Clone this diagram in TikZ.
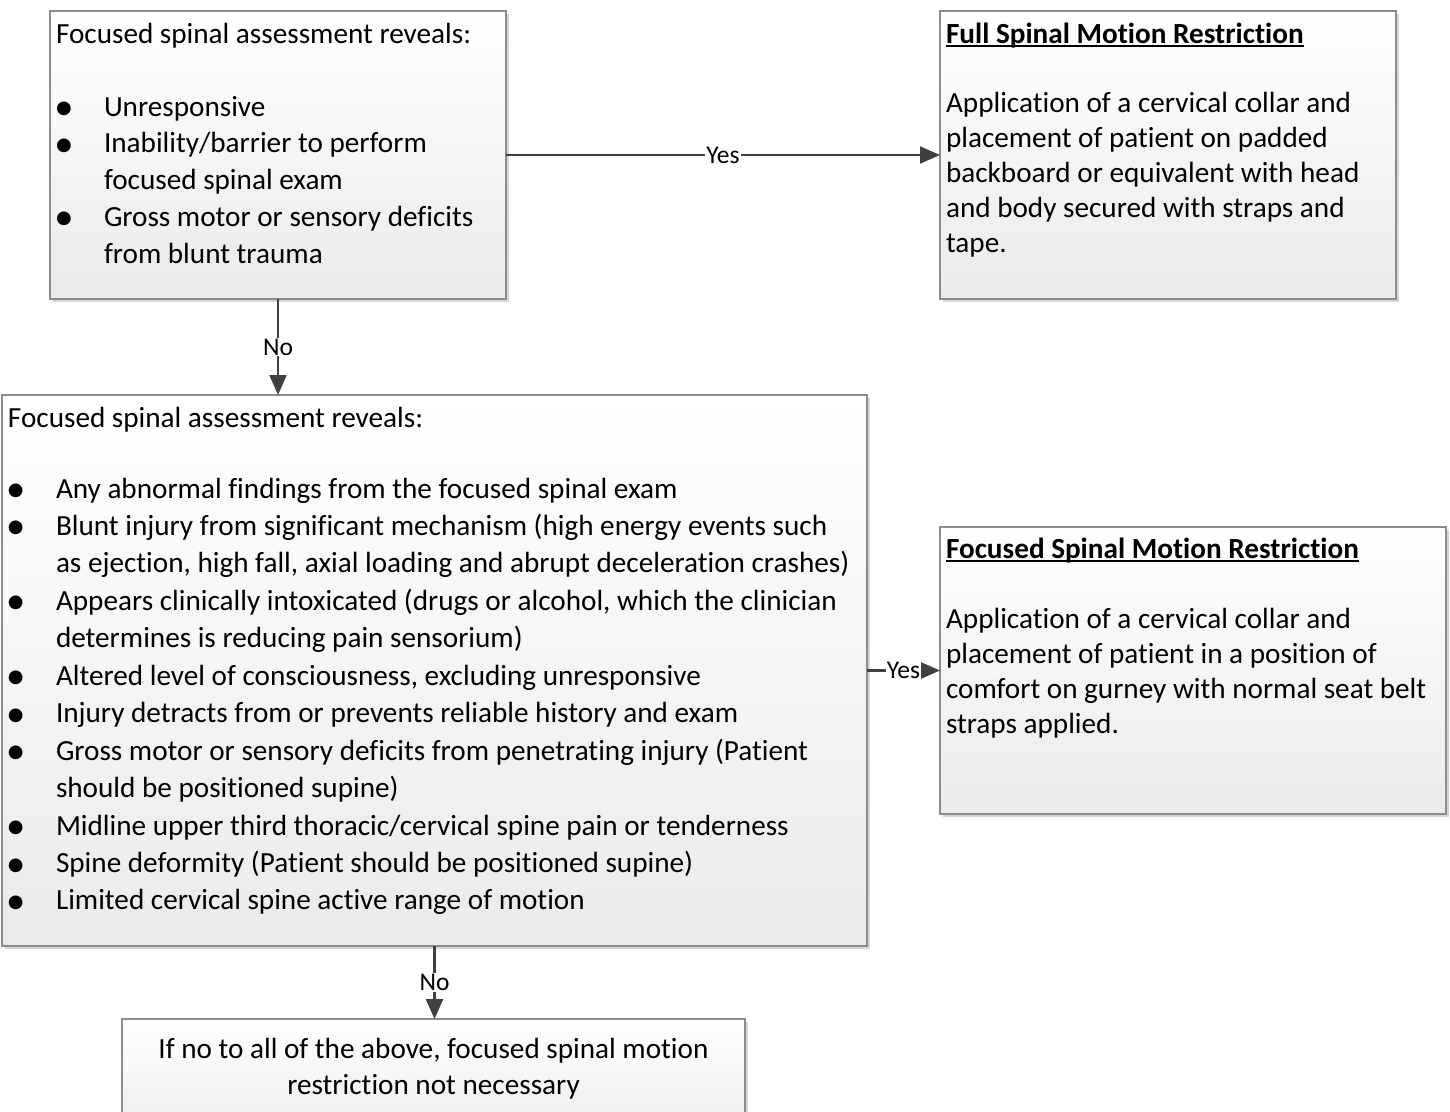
\documentclass[tikz,border=0pt]{standalone}
\usepackage{fontspec}
\setmainfont{Carlito}[Ligatures=NoCommon]
\newfontfamily\dejavu{DejaVu Sans}
\usetikzlibrary{arrows.meta,shadows}
\definecolor{boxline}{HTML}{8C8C8C}
\definecolor{arrowc}{HTML}{404040}
\definecolor{shadowc}{HTML}{D6D6D6}
\newcommand\bul{\makebox[48pt][l]{\raisebox{2.5pt}{\dejavu\fontsize{18}{18}\selectfont ●}}}
\newcommand\ind{\hspace*{48pt}}
\newcommand\ttl[1]{\leavevmode\setbox0\hbox{\textbf{#1}}\rlap{\rule[-3.5pt]{\wd0}{1.6pt}}\box0}
\tikzset{
  flowbox/.style={rectangle, draw=boxline, line width=1.5pt, top color=white, bottom color=black!8,
    inner sep=0pt, outer sep=0pt,
    drop shadow={shadow xshift=3pt, shadow yshift=-3pt, fill=shadowc, opacity=1}},
  boxtext/.style={inner sep=0pt, outer sep=0pt, anchor=base west, text=black},
  arr/.style={draw=arrowc, line width=2.2pt, -{Triangle[length=20pt,width=17pt]}},
  lbl/.style={fill=white, inner sep=1pt, text=black, font=\fontsize{25.5}{25.5}\selectfont}
}
\begin{document}
\begin{tikzpicture}[x=1pt, y=-1pt]
\useasboundingbox (0,0) rectangle (1450,1111);
\clip (0,0) rectangle (1450,1111);
\fill[white] (0,0) rectangle (1450,1111);

% boxes
\node[flowbox, minimum width=456pt, minimum height=288pt] (b1) at (278,155) {};
\node[flowbox, minimum width=456pt, minimum height=288pt] (b2) at (1168,155) {};
\node[flowbox, minimum width=865pt, minimum height=551pt] (b3) at (434.5,670.5) {};
\node[flowbox, minimum width=506pt, minimum height=287pt] (b4) at (1193,670.5) {};
\node[flowbox, minimum width=623pt, minimum height=124pt] (b5) at (433.5,1081) {};

% texts
\node[boxtext, font=\fontsize{29.2}{36.75}\selectfont] (t1) at (56,43)
 {\parbox[t]{445pt}{\raggedright
  Focused spinal assessment reveals:\\[36.25pt]
  \bul Unresponsive\\
  \bul Inability/barrier to perform\\
  \ind focused spinal exam\\
  \bul Gross motor or sensory deficits\\
  \ind from blunt trauma}};

\node[boxtext, font=\fontsize{29.2}{35.2}\selectfont] (t2) at (946,43)
 {\parbox[t]{445pt}{\raggedright
  \ttl{Full Spinal Motion Restriction}\\[33.8pt]
  Application of a cervical collar and\\
  placement of patient on padded\\
  backboard or equivalent with head\\
  and body secured with straps and\\
  tape.}};

\node[boxtext, font=\fontsize{29.2}{37.45}\selectfont] (t3) at (8,427)
 {\parbox[t]{900pt}{\raggedright
  Focused spinal assessment reveals:\\[33.55pt]
  \bul Any abnormal findings from the focused spinal exam\\
  \bul Blunt injury from significant mechanism (high energy events such\\
  \ind as ejection, high fall, axial loading and abrupt deceleration crashes)\\
  \bul Appears clinically intoxicated (drugs or alcohol, which the clinician\\
  \ind determines is reducing pain sensorium)\\
  \bul Altered level of consciousness, excluding unresponsive\\
  \bul Injury detracts from or prevents reliable history and exam\\
  \bul Gross motor or sensory deficits from penetrating injury (Patient\\
  \ind should be positioned supine)\\
  \bul Midline upper third thoracic/cervical spine pain or tenderness\\
  \bul Spine deformity (Patient should be positioned supine)\\
  \bul Limited cervical spine active range of motion}};

\node[boxtext, font=\fontsize{29.2}{35}\selectfont] (t4) at (946,558)
 {\parbox[t]{495pt}{\raggedright
  \ttl{Focused Spinal Motion Restriction}\\[35pt]
  Application of a cervical collar and\\
  placement of patient in a position of\\
  comfort on gurney with normal seat belt\\
  straps applied.}};

\node[inner sep=0pt, outer sep=0pt, anchor=base, text=black, font=\fontsize{29.2}{36.5}\selectfont] (t5) at (433.5,1058)
 {\parbox[t]{610pt}{\centering
  If no to all of the above, focused spinal motion\\
  restriction not necessary}};

% connectors
\draw[arr] (b1.east) -- node[lbl] (y1) {Yes} (b2.west);
\draw[arr] (b1.south) -- node[lbl] (n1) {No} (b1.south |- b3.north);
\draw[arr] (b3.east) -- node[lbl] (y2) {Yes} (b4.west);
\draw[arr] (b3.south) -- node[lbl] (n2) {No} (b3.south |- b5.north);
\end{tikzpicture}
\end{document}
